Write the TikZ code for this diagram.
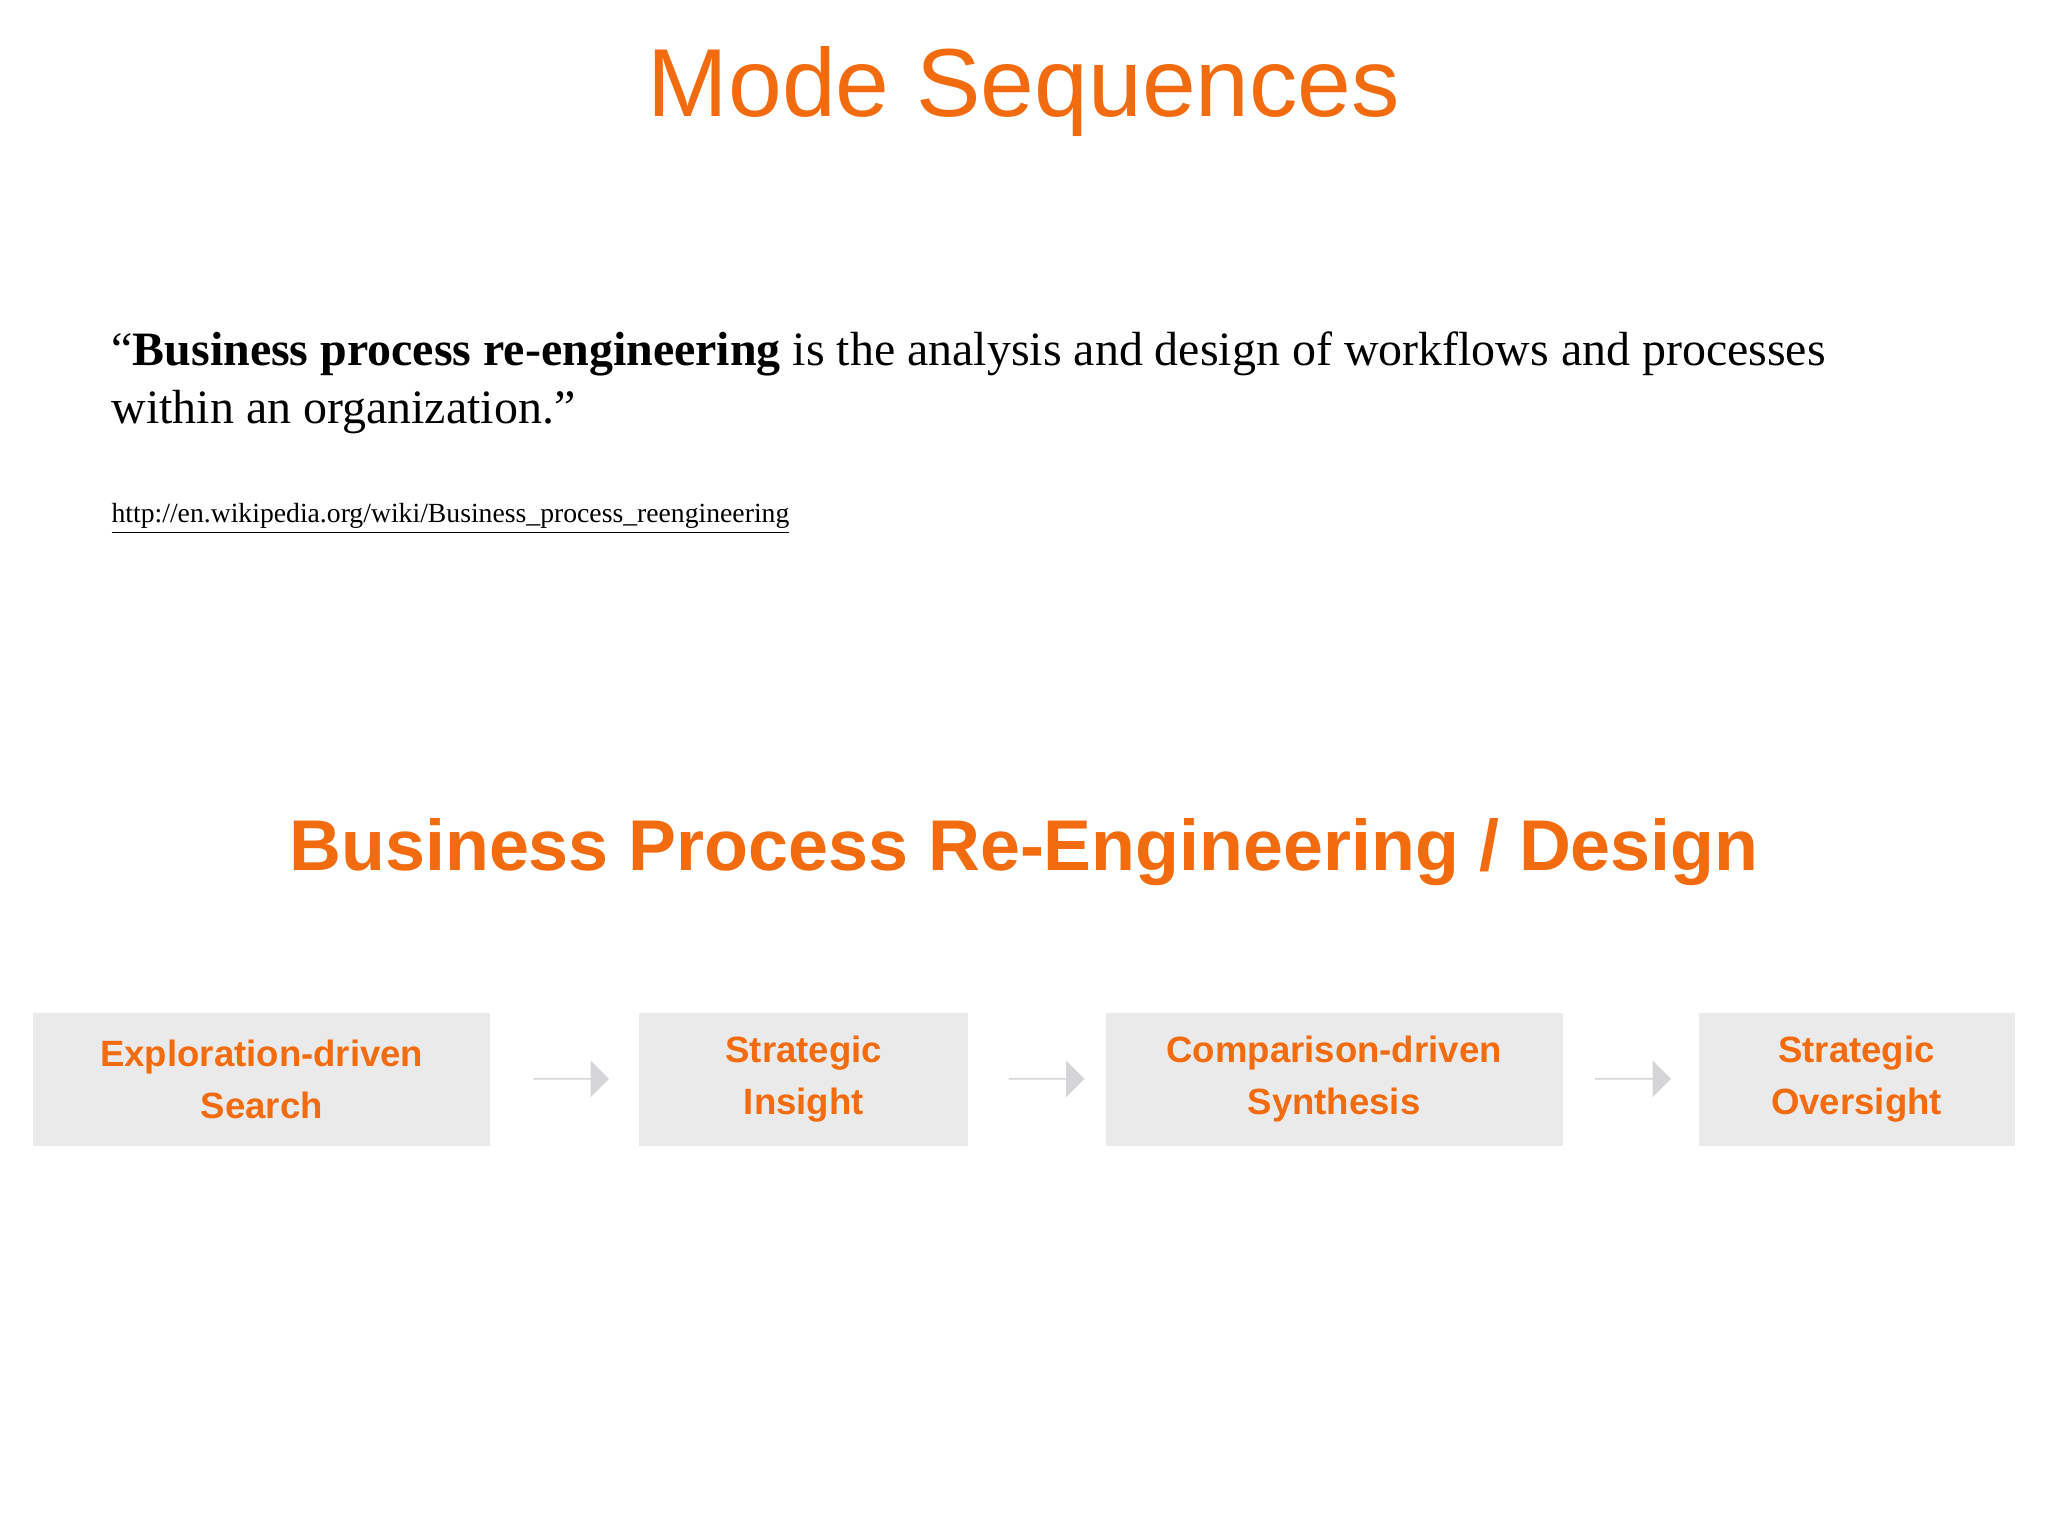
\documentclass[tikz,border=0pt]{standalone}
\usepackage{fontspec}
\setmainfont{Liberation Serif}
\setsansfont{Liberation Sans}
\usetikzlibrary{shapes.arrows}
\definecolor{org}{HTML}{F26B0F}
\definecolor{boxg}{HTML}{EBEAEB}
\definecolor{arrg}{HTML}{D5D4D6}
\begin{document}
\begin{tikzpicture}[x=0.5pt,y=-0.5pt,
  stepbox/.style={fill=boxg,draw=none,anchor=north west,inner sep=0pt,minimum height=51pt,text width=#1,align=center,font=\sffamily\bfseries\fontsize{14}{18}\selectfont,text=org},
  garrow/.style={single arrow,fill=arrg,draw=none,minimum height=29pt,minimum width=14pt,single arrow head extend=5pt,inner sep=0pt,single arrow tip angle=90}]
\useasboundingbox (0,0) rectangle (1568,1176);
\node[font=\sffamily\fontsize{37}{42}\selectfont,text=org] (title) at (784,70) {Mode Sequences};
\node[anchor=west,align=left,font=\fontsize{18.35}{22.5}\selectfont,inner sep=0pt] (quote) at (85,293)
 {“\textbf{Business process re-engineering} is the analysis and design of workflows and processes\\within an organization.”};
\node[anchor=west,inner sep=0pt,font=\fontsize{10.6}{12}\selectfont] (url) at (85,397) {\underline{http://en.wikipedia.org/wiki/Business\_process\_reengineering}};
\node[font=\sffamily\bfseries\fontsize{27.5}{30}\selectfont,text=org] (sub) at (784,652) {Business Process Re-Engineering / Design};
\node[stepbox=175pt] (b1) at (25,775) {\vspace*{2pt}Exploration-driven\\Search};
\node[stepbox=126pt] (b2) at (489,775) {\vspace*{2pt}Strategic\\Insight};
\node[stepbox=175pt] (b3) at (846,775) {\vspace*{2pt}Comparison-driven\\Synthesis};
\node[stepbox=121pt] (b4) at (1300,775) {\vspace*{2pt}Strategic\\Oversight};
\node[garrow] (a1) at (437,826) {};
\node[garrow] (a2) at (801,826) {};
\node[garrow] (a3) at (1250,826) {};
\end{tikzpicture}
\end{document}
